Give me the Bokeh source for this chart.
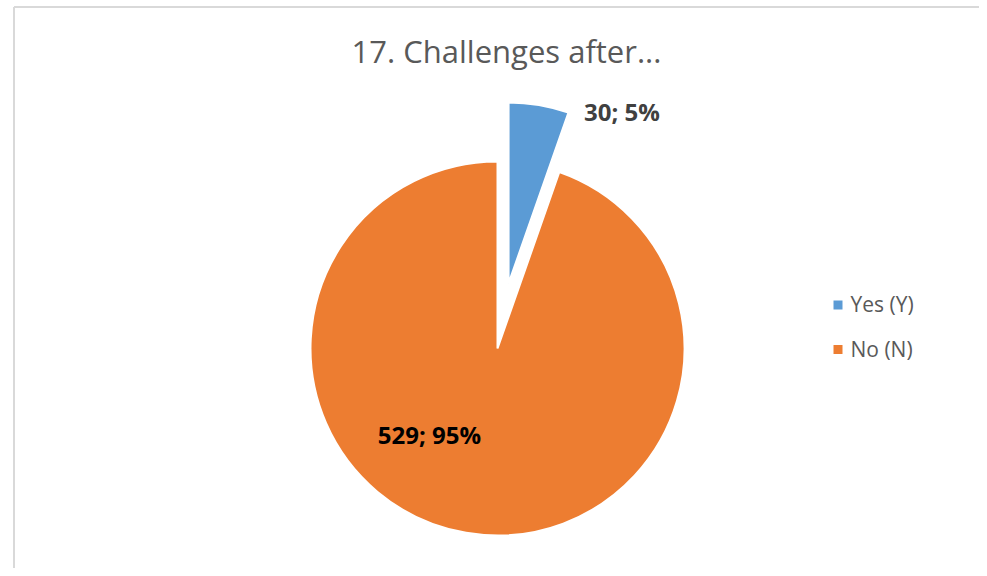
import math
from bokeh.plotting import figure
from bokeh.models import Range1d
from bokeh.core.properties import value
from bokeh.embed import file_html
from bokeh.resources import INLINE

# ---- data ----
title = "17. Challenges after..."
categories = ["Yes (Y)", "No (N)"]
counts = [30, 529]
colors = ["#5B9BD5", "#ED7D31"]

# ---- layout (pixel coordinates; Y measured upward from bottom of figure) ----
W, H = 979, 568
def X(px):
    return px
def Y(py):
    return H - py

p = figure(width=W, height=H, output_backend="svg", toolbar_location=None,
           x_range=Range1d(0, W), y_range=Range1d(0, H),
           min_border=0, min_border_left=0, min_border_right=0,
           min_border_top=0, min_border_bottom=0)
p.axis.visible = False
p.grid.visible = False
p.outline_line_color = None
p.background_fill_color = "white"
p.border_fill_color = "white"

# chart area border (top and left visible)
p.line(x=[X(13.5), X(13.5)], y=[Y(6.5), Y(H)], line_color="#D9D9D9", line_width=2)
p.line(x=[X(13.5), X(W)], y=[Y(6.5), Y(6.5)], line_color="#D9D9D9", line_width=2)

# title
p.text(x=[X(506)], y=[Y(50)], text=[title], text_font=value("Open Sans"),
       text_font_size="31px", text_color="#595959", text_align="center",
       text_baseline="middle")

# pie
total = sum(counts)
cx, cy = X(497), Y(348)
explode = [66, 0]
radii = [181, 187]
start = math.pi / 2
for i, c in enumerate(counts):
    sweep = 2 * math.pi * c / total
    end = start - sweep
    mid = start - sweep / 2
    ox = cx + explode[i] * math.cos(mid)
    oy = cy + explode[i] * math.sin(mid)
    p.wedge(x=[ox], y=[oy], radius=radii[i], start_angle=end, end_angle=start,
            direction="anticlock", fill_color=colors[i], line_color="white",
            line_width=2)
    start = end

# data labels
labels = [f"{c}; {round(100 * c / total)}%" for c in counts]
label_pos = [(X(621.5), Y(111)), (X(429), Y(434))]
label_colors = ["#404040", "#000000"]
for (lx, ly), t, col in zip(label_pos, labels, label_colors):
    p.text(x=[lx], y=[ly], text=[t], text_font=value("Open Sans"),
           text_font_size="24px", text_font_style="bold", text_color=col,
           text_align="center", text_baseline="middle")

# legend
leg_sq_y = [Y(304.5), Y(349)]
leg_txt_y = [Y(303.5), Y(348)]
for cat, col, sy, ty in zip(categories, colors, leg_sq_y, leg_txt_y):
    p.scatter(x=[X(837.5)], y=[sy], marker="square", size=9, fill_color=col,
              line_color=None)
    p.text(x=[X(850)], y=[ty], text=[cat], text_font=value("Open Sans"),
           text_font_size="21px", text_color="#595959", text_align="left",
           text_baseline="middle")

open("out.html", "w").write(file_html(p, INLINE))
